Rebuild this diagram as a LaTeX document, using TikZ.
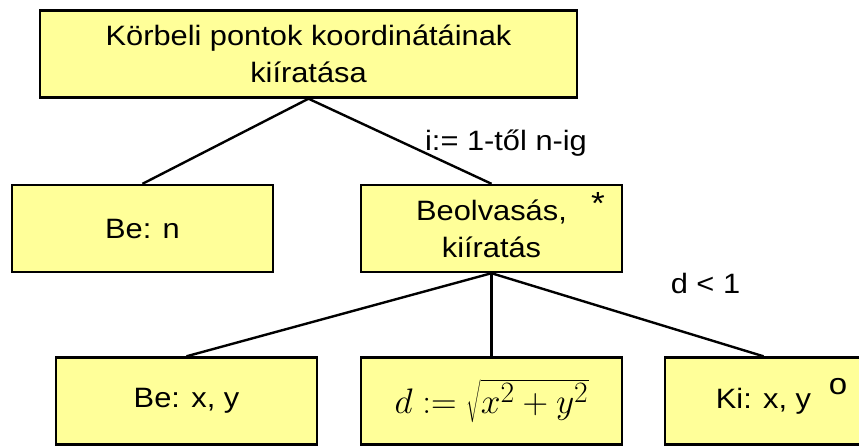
\documentclass[tikz,border=0pt]{standalone}
\usepackage{fontspec}
\setmainfont{Liberation Sans}[FakeStretch=1.1]
\definecolor{boxfill}{HTML}{FFFF99}
\begin{document}
\begin{tikzpicture}[x=1pt,y=-1pt,
  box/.style={draw=black,line width=2.4pt,fill=boxfill,rectangle,inner sep=0pt,
    align=center,minimum height=87pt,font=\fontsize{28}{37}\selectfont},
  link/.style={draw=black,line width=2.4pt},
  lbl/.style={font=\fontsize{28}{37}\selectfont,inner sep=0pt}]
\clip (0,0) rectangle (859,445);
% program structure tree
\node[box,minimum width=537pt] (root) at (308.5,54) {Körbeli pontok koordinátáinak\\kiíratása};
\node[box,minimum width=261pt] (ben) at (142.5,228.5) {Be: n};
\node[box,minimum width=261pt] (loop) at (491.5,228.5) {Beolvasás,\\kiíratás};
\node[box,minimum width=261pt] (bexy) at (186.5,401) {Be: x, y};
\node[box,minimum width=261pt] (calc) at (491.5,401)
  {\resizebox{194pt}{!}{$d := \sqrt{x^2+y^2}$}};
\node[box,minimum width=197pt] (kixy) at (763.5,401) {Ki: x, y};
% connectors
\draw[link] (root.south) -- (ben.north);
\draw[link] (root.south) -- (loop.north);
\draw[link] (loop.south) -- (bexy.north);
\draw[link] (loop.south) -- (calc.north);
\draw[link] (loop.south) -- (kixy.north);
% annotations
\node[lbl,anchor=base] (iter) at (506,150) {i:= 1-től n-ig};
\node[lbl,font=\fontsize{32}{37}\selectfont] (star) at (598,203) {*};
\node[lbl,anchor=base] (cond) at (705.5,293) {d < 1};
\node[lbl,font=\fontsize{30}{32}\selectfont] (opt) at (838,387) {o};
\end{tikzpicture}
\end{document}
